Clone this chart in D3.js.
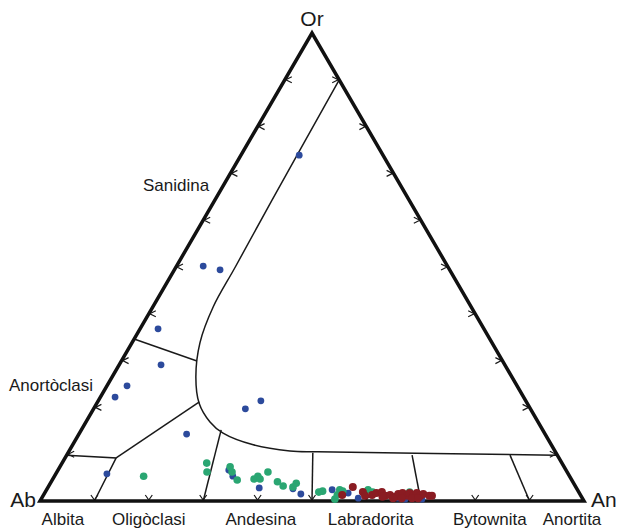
<!DOCTYPE html>
<html>
<head>
<meta charset="utf-8">
<script src="https://cdn.jsdelivr.net/npm/d3@7"></script>
<style>
  body { margin: 0; background: #fff; }
  text { font-family: "Liberation Sans", Arial, sans-serif; fill: #1a1a1a; }
</style>
</head>
<body>
<div id="chart"></div>
<script>
var width = 619;
var height = 529;

// ternary values in percent: [An, Or] (Ab = 100 - An - Or)
var blueSeries = [[10.7,73.9],[4.9,50.2],[8.4,49.4],[3.3,36.8],[7.7,29.1],[3.7,24.6],[2.7,22.2],
  [27.9,19.7],[29.9,21.4],[19.8,14.3],[9.4,5.8],[31.4,6.6],[32.8,5.3],[38.9,2.8],[45.2,2.6],
  [47.2,1.5],[52.5,2.4],[55.8,1.7],[58.2,0.6],[65.5,0.6],[70.0,0.4],[66.9,0.4]];
var greenSeries = [[16.4,5.3],[26.6,8.1],[27.6,6.2],[31.3,7.3],[32.2,6.2],[34.0,4.5],[37.0,4.7],
  [37.4,5.3],[38.1,4.7],[38.8,6.2],[41.6,4.1],[43.1,3.2],[45.0,3.0],[45.2,3.8],[50.3,1.9],
  [50.9,2.1],[54.0,0.4],[54.0,1.3],[53.9,2.4],[54.6,2.1],[59.1,2.4],[60.2,1.9],[67.0,1.9]];
var redSeries = [[56.0,3.0],[54.9,1.3],[58.4,1.9],[59.2,1.1],[60.4,1.3],[61.0,1.7],[61.9,1.9],
  [62.9,1.1],[63.7,1.3],[64.9,0.9],[65.1,1.5],[65.8,1.7],[67.0,1.1],[67.1,1.7],[68.1,1.1],
  [68.4,1.7],[69.4,1.1],[69.7,1.5],[71.0,1.1],[62.5,0.9],[64.6,0.6],[66.2,0.6],[68.1,0.6],
  [69.2,0.6],[71.5,1.1]];

// field boundaries, [An, Or]
var solvus = [[10,90],[10.5,64.3],[10.9,50],[11.1,41.5],[12.5,33.8],[15.4,26.5],[18.8,20.9],
  [22.8,16.9],[26.4,14.5],[33.2,12.0],[40.6,10.7],[45.7,10.5],[90,9.8]];
var boundaries = [
  [[0,34.6],[13.9,29.9]],
  [[18.7,21.2],[9.4,9.2]],
  [[0,9.8],[9.4,9.2],[10,0]],
  [[25.7,15.2],[30,0]],
  [[45,10.3],[50,0]],
  [[63.5,9.8],[70,0]],
  [[81.5,9.8],[90,0]]
];

var tickVals = d3.range(10, 100, 10);
var baseLabels = ["Albita", "Oligòclasi", "Andesina", "Labradorita", "Bytownita", "Anortita"];
var baseLabelAn = [4.2, 20, 40.6, 60.8, 82.7, 97.8];

var svg = d3.select("#chart")
  .append("svg")
  .attr("width", width)
  .attr("height", height);

var x = d3.scaleLinear().domain([0, 100]).range([40, 584]);
var y = d3.scaleLinear().domain([0, 100]).range([501, 33]);

function proj(d) {
  return [x(d[0] + d[1] / 2), y(d[1])];
}

var line = d3.line().x(function(d) { return proj(d)[0]; }).y(function(d) { return proj(d)[1]; });

// inner field lines
svg.append("path")
  .datum(solvus)
  .attr("d", line.curve(d3.curveCatmullRom.alpha(0.5)))
  .attr("fill", "none")
  .attr("stroke", "#1a1a1a")
  .attr("stroke-width", 1.5);

line.curve(d3.curveLinear);
svg.append("g")
  .selectAll("path")
  .data(boundaries)
  .enter()
  .append("path")
  .attr("d", line)
  .attr("fill", "none")
  .attr("stroke", "#1a1a1a")
  .attr("stroke-width", 1.5);

// ticks
var tickG = svg.append("g").attr("fill", "none").attr("stroke", "#1a1a1a").attr("stroke-width", 1.2);
tickVals.forEach(function(t) {
  var p = proj([t, 0]);
  tickG.append("path").attr("d", "M" + (p[0] - 3.5) + "," + (p[1] - 6) + "L" + p[0] + "," + (p[1] - 1) + "L" + (p[0] + 3.5) + "," + (p[1] - 6));
  p = proj([0, t]);
  tickG.append("path").attr("d", "M" + (p[0] + 7) + "," + (p[1] - 3) + "L" + (p[0] + 1) + "," + p[1] + "L" + (p[0] + 7) + "," + (p[1] + 3));
  p = proj([100 - t, t]);
  tickG.append("path").attr("d", "M" + (p[0] - 7) + "," + (p[1] - 3) + "L" + (p[0] - 1) + "," + p[1] + "L" + (p[0] - 7) + "," + (p[1] + 3));
});

// triangle
svg.append("path")
  .datum([[0, 0], [100, 0], [0, 100]])
  .attr("d", function(d) { return line(d) + "Z"; })
  .attr("fill", "none")
  .attr("stroke", "#111")
  .attr("stroke-width", 3.5)
  .attr("stroke-linejoin", "miter");

// points
function drawPoints(data, color, r) {
  svg.append("g")
    .selectAll("circle")
    .data(data)
    .enter()
    .append("circle")
    .attr("cx", function(d) { return proj(d)[0]; })
    .attr("cy", function(d) { return proj(d)[1]; })
    .attr("r", r)
    .style("fill", color);
}
drawPoints(blueSeries, "#2c4a9c", 3.4);
drawPoints(greenSeries, "#2aa672", 3.8);
drawPoints(redSeries, "#8a1c22", 4);

// labels
svg.append("text").attr("x", proj([0, 100])[0]).attr("y", 26).attr("text-anchor", "middle").style("font-size", "21px").text("Or");
svg.append("text").attr("x", 36).attr("y", 507).attr("text-anchor", "end").style("font-size", "21px").text("Ab");
svg.append("text").attr("x", 591).attr("y", 507).style("font-size", "21px").text("An");

svg.append("g")
  .selectAll("text")
  .data(baseLabels)
  .enter()
  .append("text")
  .attr("x", function(d, i) { return x(baseLabelAn[i]); })
  .attr("y", 525)
  .attr("text-anchor", "middle")
  .style("font-size", "17px")
  .text(function(d) { return d; });

svg.append("text").attr("x", 143).attr("y", 191).style("font-size", "17px").text("Sanidina");
svg.append("text").attr("x", 9).attr("y", 391).style("font-size", "17px").text("Anortòclasi");
</script>
</body>
</html>
